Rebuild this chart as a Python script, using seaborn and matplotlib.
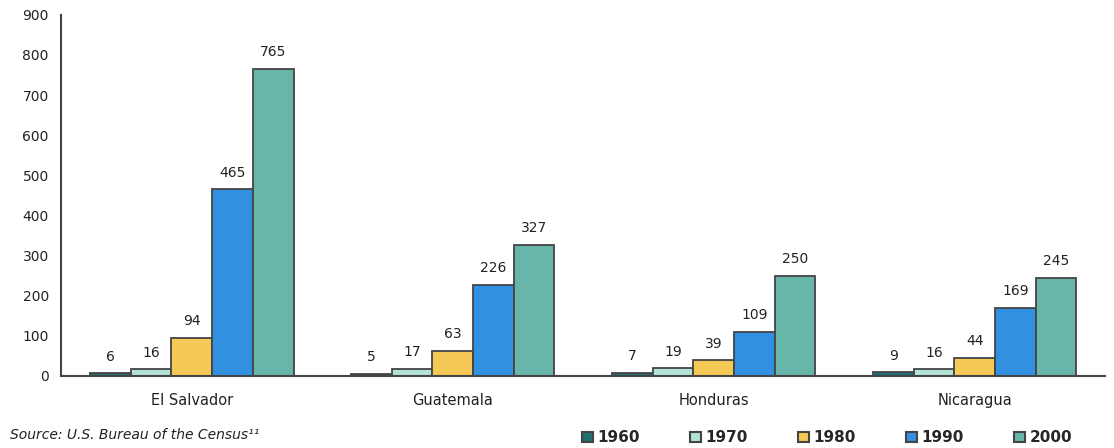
import matplotlib
matplotlib.use("Agg")
import matplotlib.pyplot as plt
import seaborn as sns
import pandas as pd

countries = ["El Salvador", "Guatemala", "Honduras", "Nicaragua"]
years = ["1960", "1970", "1980", "1990", "2000"]
v1960 = [6, 5, 7, 9]
v1970 = [16, 17, 19, 16]
v1980 = [94, 63, 39, 44]
v1990 = [465, 226, 109, 169]
v2000 = [765, 327, 250, 245]
yticks = [0, 100, 200, 300, 400, 500, 600, 700, 800, 900]
colors = ["#1f6f73", "#b3e2d6", "#f5c955", "#3190e0", "#68b5aa"]

series = [v1960, v1970, v1980, v1990, v2000]
rows = []
for yr, vals in zip(years, series):
    for c, v in zip(countries, vals):
        rows.append({"country": c, "year": yr, "value": v})
df = pd.DataFrame(rows)

sns.set_style("white")
plt.rcParams["font.family"] = ["DejaVu Sans"]

fig = plt.figure(figsize=(11.14, 4.48), dpi=100)
ax = fig.add_axes([0.055, 0.161, 0.937, 0.806])

sns.barplot(data=df, x="country", y="value", hue="year", order=countries,
            hue_order=years, palette=colors, width=0.78, edgecolor="#444444",
            linewidth=1.3, saturation=1, legend=False, ax=ax)

for cont in ax.containers:
    ax.bar_label(cont, labels=[f"{int(b.get_height())}" for b in cont],
                 padding=7, fontsize=10, color="#222222")

ax.set_ylim(0, 900)
ax.set_xlim(-0.5, 3.5)
ax.set_yticks(yticks)
ax.set_yticklabels([str(t) for t in yticks], fontsize=10, color="#222222")
ax.set_xticks(range(len(countries)))
ax.set_xticklabels(countries, fontsize=10.5, color="#222222")
ax.tick_params(axis="x", length=0, pad=12)
ax.set_xticks([-0.5, 0.5, 1.5, 2.5, 3.5], minor=True)
ax.tick_params(axis="x", which="minor", length=5, width=1.3, color="#444444", direction="out")
ax.tick_params(axis="y", length=5, width=1.3, color="#444444", direction="out", pad=4)
ax.set_xlabel("")
ax.set_ylabel("")
for side in ["top", "right"]:
    ax.spines[side].set_visible(False)
for side in ["left", "bottom"]:
    ax.spines[side].set_color("#444444")
    ax.spines[side].set_linewidth(1.5)

handles = [plt.Rectangle((0, 0), 1, 1, facecolor=c, edgecolor="#444444", linewidth=1.5)
           for c in colors]
fig.legend(handles, years, loc="lower right", bbox_to_anchor=(0.975, -0.025),
           ncol=5, frameon=False, handlelength=0.7, handleheight=0.7,
           columnspacing=3.3, handletextpad=0.3,
           prop={"weight": "bold", "size": 11})

fig.text(0.009, 0.02, "Source: U.S. Bureau of the Census\u00b9\u00b9", fontsize=10,
         style="italic", color="#222222")

fig.savefig("out.png", dpi=100)
